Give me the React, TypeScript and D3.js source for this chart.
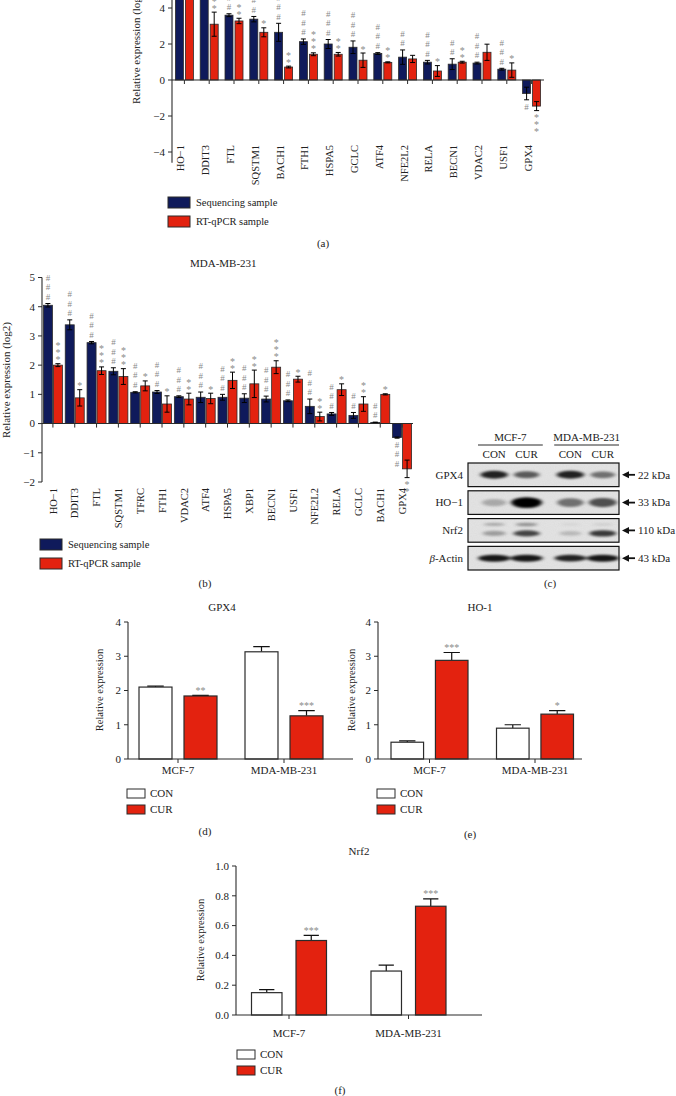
import * as d3 from "d3";

const FONT = "'Liberation Serif', 'Times New Roman', serif";
const NAVY = "#0f1a5b";
const RED = "#e3220f";
const SIG_GRAY = "#8a8a8a";
const INK = "#2b2b2b";

// (a) MCF-7, sequencing vs RT-qPCR (log2)
const genesA = ["HO-1", "DDIT3", "FTL", "SQSTM1", "BACH1", "FTH1", "HSPA5", "GCLC", "ATF4", "NFE2L2", "RELA", "BECN1", "VDAC2", "USF1", "GPX4"];
const seqA = [6.8, 5.2, 3.6, 3.38, 2.65, 2.13, 2.0, 1.82, 1.47, 1.27, 0.99, 0.88, 0.94, 0.6, -0.75];
const seqErrA = [0.2, 0.2, 0.08, 0.15, 0.5, 0.15, 0.25, 0.35, 0.05, 0.4, 0.1, 0.3, 0.05, 0.05, 0.35];
const qpcrA = [6.0, 3.1, 3.28, 2.65, 0.72, 1.43, 1.43, 1.1, 0.98, 1.17, 0.5, 0.99, 1.54, 0.55, -1.45];
const qpcrErrA = [0.3, 0.67, 0.15, 0.25, 0.05, 0.08, 0.1, 0.4, 0.03, 0.2, 0.3, 0.05, 0.45, 0.4, 0.25];
const seqSigA = ["###", "###", "###", "###", "###", "###", "###", "###", "###", "##", "###", "##", "###", "###", "#"];
const qpcrSigA = ["***", "**", "**", "*", "**", "***", "**", "*", "**", "", "*", "**", "", "*", "***"];

// (b) MDA-MB-231
const genesB = ["HO-1", "DDIT3", "FTL", "SQSTM1", "TFRC", "FTH1", "VDAC2", "ATF4", "HSPA5", "XBP1", "BECN1", "USF1", "NFE2L2", "RELA", "GCLC", "BACH1", "GPX4"];
const seqB = [4.05, 3.38, 2.77, 1.79, 1.07, 1.08, 0.92, 0.9, 0.9, 0.87, 0.84, 0.78, 0.59, 0.33, 0.28, 0.04, -0.48];
const seqErrB = [0.06, 0.17, 0.04, 0.12, 0.02, 0.05, 0.03, 0.18, 0.1, 0.15, 0.1, 0.03, 0.25, 0.05, 0.1, 0.01, 0.02];
const qpcrB = [2.0, 0.88, 1.81, 1.61, 1.29, 0.67, 0.84, 0.86, 1.48, 1.36, 1.93, 1.52, 0.24, 1.16, 0.67, 1.0, -1.55];
const qpcrErrB = [0.05, 0.28, 0.13, 0.27, 0.17, 0.28, 0.2, 0.18, 0.28, 0.47, 0.22, 0.1, 0.15, 0.2, 0.25, 0.02, 0.3];
const seqSigB = ["###", "###", "###", "###", "###", "###", "###", "###", "###", "###", "###", "###", "###", "###", "##", "##", "###"];
const qpcrSigB = ["***", "*", "***", "***", "*", "*", "**", "*", "**", "**", "***", "*", "**", "*", "**", "*", "**"];

// (c) western blot
const blotGroups = ["MCF-7", "MDA-MB-231"];
const blotLanes = ["CON", "CUR"];
const blotProteins = ["GPX4", "HO-1", "Nrf2", "β-Actin"];
const blotKda = ["22 kDa", "33 kDa", "110 kDa", "43 kDa"];
const bandGpx4 = [0.85, 0.6, 0.85, 0.5];
const bandHo1 = [0.25, 1.0, 0.5, 0.65];
const bandNrf2Upper = [0.25, 0.35, 0.05, 0.08];
const bandNrf2Lower = [0.3, 0.7, 0.18, 0.75];
const bandActin = [0.9, 0.9, 0.85, 0.9];

// (d)-(f) CON vs CUR
const cellLines = ["MCF-7", "MDA-MB-231"];
const gpx4Con = [2.1, 3.13];
const gpx4ConErr = [0.03, 0.15];
const gpx4Cur = [1.84, 1.26];
const gpx4CurErr = [0.02, 0.15];
const gpx4Sig = ["**", "***"];
const ho1Con = [0.49, 0.9];
const ho1ConErr = [0.04, 0.1];
const ho1Cur = [2.88, 1.31];
const ho1CurErr = [0.23, 0.1];
const ho1Sig = ["***", "*"];
const nrf2Con = [0.15, 0.295];
const nrf2ConErr = [0.02, 0.04];
const nrf2Cur = [0.5, 0.73];
const nrf2CurErr = [0.035, 0.05];
const nrf2Sig = ["***", "***"];

// stacked # / * marks going away from a bar end, one text element per stack
function SigStack({ x, edge, marks, dir }: { x: number; edge: number; marks: string; dir: number }) {
  let offset = 2;
  const glyphs = marks
    .split("")
    .map((ch) => {
      const step = ch === "#" ? 9.5 : 7;
      const center = edge + dir * (offset + step / 2);
      offset += step;
      return { ch, center };
    })
    .filter((g) => g.center > -3); // the top of the figure is cropped
  if (!glyphs.length) return null;
  return (
    <text fill={SIG_GRAY} textAnchor="middle">
      {glyphs.map((g, i) => (
        <tspan key={i} x={x} y={g.center + (g.ch === "#" ? 3 : 5)} fontSize={g.ch === "#" ? 9 : 10}>
          {g.ch}
        </tspan>
      ))}
    </text>
  );
}

function GeneChart(p: {
  genes: string[];
  seq: number[];
  seqErr: number[];
  qpcr: number[];
  qpcrErr: number[];
  seqSig: string[];
  qpcrSig: string[];
  xRange: [number, number];
  y: d3.ScaleLinear<number, number>;
  axisExtent: [number, number];
  ticks: number[];
  labelTop: number;
  labelDy: string;
  half: number;
  pad: number;
  yLabel: [number, number];
}) {
  const x = d3.scaleBand(p.genes, p.xRange);
  const sub = d3.scaleBand(["seq", "qpcr"], [-p.half, p.half]).paddingInner(p.pad);
  const y = p.y;
  const y0 = y(0);
  const ax = p.xRange[0];
  const series = [
    { key: "seq", vals: p.seq, errs: p.seqErr, sig: p.seqSig, fill: NAVY },
    { key: "qpcr", vals: p.qpcr, errs: p.qpcrErr, sig: p.qpcrSig, fill: RED },
  ];
  return (
    <g>
      {series.map((s) =>
        s.vals.map((v, i) => {
          const cx = x(p.genes[i])! + x.bandwidth() / 2;
          const bx = cx + sub(s.key)!;
          const mid = bx + sub.bandwidth() / 2;
          const e = s.errs[i];
          const edge = v >= 0 ? y(v + e) : y(v - e);
          return (
            <g key={s.key + i}>
              <rect x={bx} y={Math.min(y(v), y0)} width={sub.bandwidth()} height={Math.abs(y(v) - y0)} fill={s.fill} stroke={INK} strokeWidth={0.8} />
              <path d={`M${mid - 2.5},${y(v + e)}H${mid + 2.5}M${mid},${y(v + e)}V${y(v - e)}M${mid - 2.5},${y(v - e)}H${mid + 2.5}`} stroke="#000" strokeWidth={1} fill="none" />
              <SigStack x={mid} edge={edge} marks={s.sig[i]} dir={v >= 0 ? -1 : 1} />
            </g>
          );
        }),
      )}
      {/* axes */}
      <line x1={ax} x2={ax} y1={y(p.axisExtent[0])} y2={y(p.axisExtent[1])} stroke={INK} strokeWidth={1.1} />
      <line x1={ax} x2={p.xRange[1]} y1={y0} y2={y0} stroke={INK} strokeWidth={1.1} />
      {p.ticks.map((t) => (
        <g key={t}>
          <line x1={ax - 4} x2={ax} y1={y(t)} y2={y(t)} stroke={INK} />
          <text x={ax - 7} y={y(t)} dy="0.35em" textAnchor="end" fontSize={11}>
            {t < 0 ? "−" + Math.abs(t) : t}
          </text>
        </g>
      ))}
      {p.genes.map((g) => {
        const cx = x(g)! + x.bandwidth() / 2;
        return (
          <g key={g}>
            <line x1={cx} x2={cx} y1={y0} y2={y0 + 4} stroke={INK} />
            <text transform={`translate(${cx},${p.labelTop}) rotate(-90)`} dy={p.labelDy} textAnchor="end" fontSize={10.5}>
              {g.replace("-", "−")}
            </text>
          </g>
        );
      })}
      <text transform={`translate(${p.yLabel[0]},${p.yLabel[1]}) rotate(-90)`} textAnchor="middle" fontSize={11}>
        Relative expression (log2)
      </text>
    </g>
  );
}

function SeqLegend({ x, y0, y1 }: { x: number; y0: number; y1: number }) {
  return (
    <g fontSize={10.5}>
      <rect x={x} y={y0} width={22} height={11} fill={NAVY} stroke={INK} />
      <text x={x + 28} y={y0 + 5.5} dy="0.35em">Sequencing sample</text>
      <rect x={x} y={y1} width={22} height={11} fill={RED} stroke={INK} />
      <text x={x + 28} y={y1 + 5.5} dy="0.35em">RT-qPCR sample</text>
    </g>
  );
}

function PairChart(p: {
  title: string;
  titlePos: [number, number];
  con: number[];
  conErr: number[];
  cur: number[];
  curErr: number[];
  sig: string[];
  groupRange: [number, number];
  half: number;
  pad: number;
  axisX: [number, number];
  y: d3.ScaleLinear<number, number>;
  ticks: number[];
  fmt: (n: number) => string;
  catY: number;
  yLabel: [number, number];
  legend: [number, number, number];
  panel: string;
  panelPos: [number, number];
}) {
  const x = d3.scaleBand(cellLines, p.groupRange);
  const sub = d3.scaleBand(["CON", "CUR"], [-p.half, p.half]).paddingInner(p.pad);
  const y = p.y;
  const [ax, axEnd] = p.axisX;
  const y0 = y(0);
  const top = y(p.ticks[p.ticks.length - 1]);
  const series = [
    { key: "CON", vals: p.con, errs: p.conErr, fill: "#fff" },
    { key: "CUR", vals: p.cur, errs: p.curErr, fill: RED },
  ];
  const cap = sub.bandwidth() * 0.25;
  const [lx, ly0, ly1] = p.legend;
  return (
    <g>
      <text x={p.titlePos[0]} y={p.titlePos[1]} dy="0.35em" textAnchor="middle" fontSize={11}>
        {p.title}
      </text>
      {series.map((s) =>
        s.vals.map((v, i) => {
          const cx = x(cellLines[i])! + x.bandwidth() / 2;
          const bx = cx + sub(s.key)!;
          const mid = bx + sub.bandwidth() / 2;
          const et = y(v + s.errs[i]);
          return (
            <g key={s.key + i}>
              <path d={`M${mid},${y(v)}V${et}M${mid - cap},${et}H${mid + cap}`} stroke="#111" strokeWidth={1.2} fill="none" />
              <rect x={bx} y={y(v)} width={sub.bandwidth()} height={y0 - y(v)} fill={s.fill} stroke={INK} strokeWidth={1.2} />
              {s.key === "CUR" && (
                <text x={mid} y={et - 1.5} textAnchor="middle" fontSize={10} fill={SIG_GRAY}>
                  {p.sig[i]}
                </text>
              )}
            </g>
          );
        }),
      )}
      <line x1={ax} x2={ax} y1={y0} y2={top} stroke={INK} strokeWidth={1.1} />
      <line x1={ax} x2={axEnd} y1={y0} y2={y0} stroke={INK} strokeWidth={1.1} />
      {p.ticks.map((t) => (
        <g key={t}>
          <line x1={ax - 4} x2={ax} y1={y(t)} y2={y(t)} stroke={INK} />
          <text x={ax - 7} y={y(t)} dy="0.35em" textAnchor="end" fontSize={11}>
            {p.fmt(t)}
          </text>
        </g>
      ))}
      {cellLines.map((c) => {
        const cx = x(c)! + x.bandwidth() / 2;
        return (
          <g key={c}>
            <line x1={cx} x2={cx} y1={y0} y2={y0 + 4} stroke={INK} />
            <text x={cx} y={p.catY} dy="0.35em" textAnchor="middle" fontSize={11}>
              {c}
            </text>
          </g>
        );
      })}
      <text transform={`translate(${p.yLabel[0]},${p.yLabel[1]}) rotate(-90)`} textAnchor="middle" fontSize={10.5}>
        Relative expression
      </text>
      <g fontSize={11}>
        <rect x={lx} y={ly0} width={18} height={9} fill="#fff" stroke={INK} />
        <text x={lx + 23} y={ly0 + 4.5} dy="0.35em">CON</text>
        <rect x={lx} y={ly1} width={18} height={9} fill={RED} stroke={INK} />
        <text x={lx + 23} y={ly1 + 4.5} dy="0.35em">CUR</text>
      </g>
      <text x={p.panelPos[0]} y={p.panelPos[1]} dy="0.35em" textAnchor="middle" fontSize={11}>
        {p.panel}
      </text>
    </g>
  );
}

function Blot() {
  const boxX: [number, number] = [468, 619];
  const groupX = d3.scaleBand(blotGroups, [478, 619]).paddingInner(0.15);
  const laneX = d3.scaleBand(blotLanes, [0, groupX.bandwidth()]);
  const rowY = d3.scaleBand(blotProteins, [463, 570]).paddingInner(0.15);
  const laneCenters = blotGroups.flatMap((g) => blotLanes.map((l) => groupX(g)! + laneX(l)! + laneX.bandwidth() / 2));
  const rows = [
    { bands: [{ v: bandGpx4, dy: 0, rx: 13, ry: 3.5 }] },
    { bands: [{ v: bandHo1, dy: 0, rx: 14, ry: 4.5 }] },
    {
      bands: [
        { v: bandNrf2Upper, dy: -6, rx: 12, ry: 2 },
        { v: bandNrf2Lower, dy: 3, rx: 13, ry: 3 },
      ],
    },
    { bands: [{ v: bandActin, dy: 0, rx: 15, ry: 3 }] },
  ];
  return (
    <g fontSize={11}>
      <defs>
        <filter id="blur" x="-50%" y="-100%" width="200%" height="300%">
          <feGaussianBlur stdDeviation="2.2 1.3" />
        </filter>
        <filter id="grain">
          <feTurbulence type="fractalNoise" baseFrequency="0.9" numOctaves={2} seed={3} />
          <feColorMatrix type="matrix" values="0 0 0 0 0.5 0 0 0 0 0.5 0 0 0 0 0.5 0 0 0 0.18 0" />
          <feComposite in2="SourceGraphic" operator="in" />
        </filter>
      </defs>
      {blotGroups.map((g) => (
        <g key={g}>
          <text x={groupX(g)! + groupX.bandwidth() / 2} y={437} dy="0.35em" textAnchor="middle">
            {g}
          </text>
          <line x1={groupX(g)!} x2={groupX(g)! + groupX.bandwidth()} y1={445} y2={445} stroke={INK} />
          {blotLanes.map((l) => (
            <text key={l} x={groupX(g)! + laneX(l)! + laneX.bandwidth() / 2} y={454} dy="0.35em" textAnchor="middle">
              {l}
            </text>
          ))}
        </g>
      ))}
      {blotProteins.map((prot, r) => {
        const top = rowY(prot)!;
        const h = rowY.bandwidth();
        const cy = top + h / 2;
        return (
          <g key={prot}>
            <rect x={boxX[0]} y={top} width={boxX[1] - boxX[0]} height={h} fill="#e4e4e4" />
            <rect x={boxX[0]} y={top} width={boxX[1] - boxX[0]} height={h} fill="#fff" filter="url(#grain)" />
            <g filter="url(#blur)">
              {rows[r].bands.map((b, k) =>
                b.v.map((a, i) => (
                  <ellipse key={k + "-" + i} cx={laneCenters[i]} cy={cy + b.dy} rx={b.rx * (0.8 + 0.3 * a)} ry={b.ry * (0.7 + 0.5 * a)} fill="#000" opacity={a} />
                )),
              )}
            </g>
            <rect x={boxX[0]} y={top} width={boxX[1] - boxX[0]} height={h} fill="none" stroke="#111" strokeWidth={1.2} />
            <text x={boxX[0] - 5} y={cy} dy="0.35em" textAnchor="end">
              {prot === "β-Actin" ? (
                <>
                  <tspan fontStyle="italic">β</tspan>-Actin
                </>
              ) : (
                prot.replace("-", "−")
              )}
            </text>
            <path d={`M${boxX[1] + 3},${cy}l7,-3.5v7z`} fill="#111" />
            <line x1={boxX[1] + 9} x2={boxX[1] + 16} y1={cy} y2={cy} stroke="#111" strokeWidth={1.8} />
            <text x={boxX[1] + 19} y={cy} dy="0.35em">
              {blotKda[r]}
            </text>
          </g>
        );
      })}
      <text x={550} y={583} dy="0.35em" textAnchor="middle">
        (c)
      </text>
    </g>
  );
}

export default function App() {
  const yA = d3.scaleLinear([-4, 4], [152, 8]);
  const yB = d3.scaleLinear([-2, 5], [482, 277.5]);
  const ySmall = d3.scaleLinear([0, 4], [759, 622]);
  const yNrf2 = d3.scaleLinear([0, 1], [1015, 866]);
  return (
    <svg width={676} height={1096} style={{ position: "absolute", left: 0, top: 0, background: "#fff" }} fontFamily={FONT} fill="#222">
      <rect width={676} height={1096} fill="#fff" />
      {/* (a) */}
      <GeneChart
        genes={genesA}
        seq={seqA}
        seqErr={seqErrA}
        qpcr={qpcrA}
        qpcrErr={qpcrErrA}
        seqSig={seqSigA}
        qpcrSig={qpcrSigA}
        xRange={[172, 544]}
        y={yA}
        axisExtent={[-4.6, 10]}
        ticks={[-4, -2, 0, 2, 4]}
        labelTop={145}
        labelDy="0"
        half={9}
        pad={0.2}
        yLabel={[140, 46]}
      />
      <SeqLegend x={168} y0={197} y1={216} />
      <text x={323} y={243} dy="0.35em" textAnchor="middle" fontSize={11}>(a)</text>

      {/* (b) */}
      <text x={190} y={263} dy="0.35em" fontSize={11}>MDA-MB-231</text>
      <GeneChart
        genes={genesB}
        seq={seqB}
        seqErr={seqErrB}
        qpcr={qpcrB}
        qpcrErr={qpcrErrB}
        seqSig={seqSigB}
        qpcrSig={qpcrSigB}
        xRange={[42, 413]}
        y={yB}
        axisExtent={[-2, 5]}
        ticks={[-2, -1, 0, 1, 2, 3, 4, 5]}
        labelTop={488}
        labelDy="0.35em"
        half={9.5}
        pad={0.1}
        yLabel={[10, 380]}
      />
      <SeqLegend x={40} y0={539} y1={558} />
      <text x={205} y={583} dy="0.35em" textAnchor="middle" fontSize={11}>(b)</text>

      {/* (c) */}
      <Blot />

      {/* (d) */}
      <PairChart
        title="GPX4"
        titlePos={[222, 607]}
        con={gpx4Con}
        conErr={gpx4ConErr}
        cur={gpx4Cur}
        curErr={gpx4CurErr}
        sig={gpx4Sig}
        groupRange={[125, 337]}
        half={39}
        pad={0.267}
        axisX={[128, 353]}
        y={ySmall}
        ticks={[0, 1, 2, 3, 4]}
        fmt={(n) => String(n)}
        catY={770}
        yLabel={[103, 690]}
        legend={[127, 789, 805]}
        panel="(d)"
        panelPos={[205, 831]}
      />
      {/* (e) */}
      <PairChart
        title="HO-1"
        titlePos={[480, 607]}
        con={ho1Con}
        conErr={ho1ConErr}
        cur={ho1Cur}
        curErr={ho1CurErr}
        sig={ho1Sig}
        groupRange={[376.75, 587.75]}
        half={38.5}
        pad={0.267}
        axisX={[378, 582]}
        y={ySmall}
        ticks={[0, 1, 2, 3, 4]}
        fmt={(n) => String(n)}
        catY={770}
        yLabel={[355, 690]}
        legend={[377, 789, 805]}
        panel="(e)"
        panelPos={[470, 834]}
      />
      {/* (f) */}
      <PairChart
        title="Nrf2"
        titlePos={[359, 851]}
        con={nrf2Con}
        conErr={nrf2ConErr}
        cur={nrf2Cur}
        curErr={nrf2CurErr}
        sig={nrf2Sig}
        groupRange={[229.25, 468.25]}
        half={37.5}
        pad={0.315}
        axisX={[236, 482]}
        y={yNrf2}
        ticks={[0, 0.2, 0.4, 0.6, 0.8, 1.0]}
        fmt={d3.format(".1f")}
        catY={1033}
        yLabel={[204, 940]}
        legend={[237, 1050, 1066]}
        panel="(f)"
        panelPos={[340, 1090]}
      />
    </svg>
  );
}
